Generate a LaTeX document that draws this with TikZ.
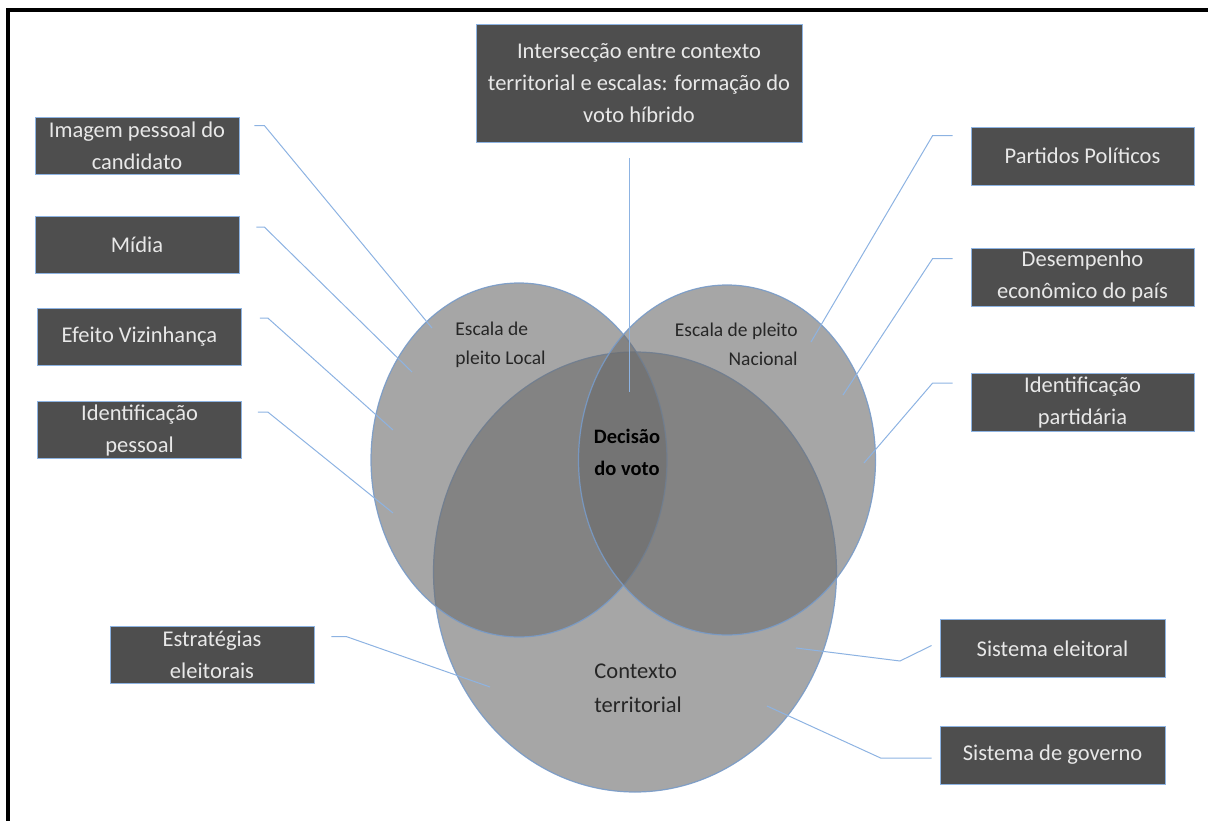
\documentclass[tikz,border=0pt]{standalone}
\usepackage{fontspec}
\setmainfont{Carlito}
\usetikzlibrary{shapes.geometric}
\definecolor{caixacinza}{RGB}{78,78,78}
\definecolor{textoclaro}{RGB}{232,232,232}
\definecolor{azulclaro}{RGB}{141,179,226}
\definecolor{contorno}{RGB}{120,155,200}
\definecolor{vennfill}{RGB}{107,107,107}
\definecolor{textoescuro}{RGB}{38,38,38}
\begin{document}
\begin{tikzpicture}[
        x=1pt, y=-1pt,
        thick
    ]
    \tikzset{
        caixa/.style = {rectangle, draw=azulclaro, line width=0.8pt, fill=caixacinza, text=textoclaro, align=center, inner sep=0pt, font=\fontsize{22.5}{32}\selectfont},
        caixae/.style = {caixa, minimum width=204pt, minimum height=57pt},
        caixad/.style = {caixa, minimum width=223pt, minimum height=58pt},
        venn/.style = {ellipse, draw=contorno, line width=1.2pt, fill=vennfill, fill opacity=0.6, draw opacity=0.9, inner sep=0pt},
        rotulo/.style = {text=textoescuro, inner sep=0pt, font=\fontsize{19.5}{29}\selectfont},
        liga/.style = {-, line width=1pt, azulclaro},
    }
    \useasboundingbox (0,0) rectangle (1208,821);
    \draw[line width=3.5pt] (8,823) -- (8,10) -- (1210,10);
    %
    \node[venn, minimum width=403pt, minimum height=440pt] (terr) at (635,572) {};
    \node[venn, minimum width=296pt, minimum height=354pt] (local) at (519,460) {};
    \node[venn, minimum width=297pt, minimum height=350pt] (nac) at (727,460) {};
    %
    \node[rotulo, anchor=west, align=left] (lblLocal) at (455,345) {Escala de\\pleito Local};
    \node[rotulo, anchor=east, align=right] (lblNac) at (798,344) {Escala de pleito\\Nacional};
    \node[rotulo, font=\fontsize{20.5}{32}\selectfont\bfseries, text=black, align=center] (dec) at (627,452) {Decisão\\do voto};
    \node[rotulo, font=\fontsize{22.5}{34}\selectfont, anchor=west, align=left] (lblTerr) at (594,688) {Contexto\\territorial};
    %
    \node[caixa, minimum width=326pt, minimum height=118pt] (inter) at (639,83) {Intersecção entre contexto\\territorial e escalas: formação do\\voto híbrido};
    \node[caixae] (img) at (137,145.5) {Imagem pessoal do\\candidato};
    \node[caixae] (mid) at (137,245) {Mídia};
    \node[caixae] (efe) at (139.5,337) {Efeito Vizinhança};
    \node[caixae] (idp) at (139.5,430) {Identificação\\pessoal};
    \node[caixae] (est) at (212,654.5) {Estratégias\\eleitorais};
    \node[caixad] (par) at (1082.5,156) {Partidos Políticos};
    \node[caixad] (des) at (1082.5,277) {Desempenho\\econômico do país};
    \node[caixad] (idpa) at (1082.5,402.5) {Identificação\\partidária};
    \node[caixad, minimum width=225pt] (sel) at (1052.5,648.5) {Sistema eleitoral};
    \node[caixad, minimum width=225pt] (sgo) at (1052.5,755) {Sistema de governo};
    %
    \coordinate (pImg) at (432,328);
    \coordinate (pMid) at (412,372);
    \coordinate (pEfe) at (393,430);
    \coordinate (pIdp) at (393,513);
    \coordinate (pEst) at (490,687);
    \coordinate (pInter) at (629,392);
    \coordinate (pPar) at (811,342);
    \coordinate (pDes) at (843,395);
    \coordinate (pIdpa) at (864,463);
    \coordinate (kSel) at (900,661);
    \coordinate (pSel) at (796,648);
    \coordinate (pSgo) at (767,706);
    %
    \draw[liga] ([xshift=15pt,yshift=-9pt]img.north east) -- ++(10,0) -- (pImg);
    \draw[liga] ([xshift=17pt,yshift=-11pt]mid.north east) -- ++(8,0) -- (pMid);
    \draw[liga] ([xshift=18pt,yshift=-10pt]efe.north east) -- ++(8,0) -- (pEfe);
    \draw[liga] ([xshift=16pt,yshift=-11pt]idp.north east) -- ++(10,0) -- (pIdp);
    \draw[liga] ([xshift=17pt,yshift=-11pt]est.north east) -- ++(15,0) -- (pEst);
    \draw[liga] ([xshift=-10pt,yshift=-16pt]inter.south) -- (pInter);
    %
    \draw[liga] ([xshift=-18pt,yshift=-9pt]par.north west) -- ++(-20,0) -- (pPar);
    \draw[liga] ([xshift=-18pt,yshift=-11pt]des.north west) -- ++(-20,0) -- (pDes);
    \draw[liga] ([xshift=-18pt,yshift=-10pt]idpa.north west) -- ++(-20,0) -- (pIdpa);
    \draw[liga] ([xshift=-8pt,yshift=3pt]sel.west) -- (kSel) -- (pSel);
    \draw[liga] ([xshift=-8pt,yshift=-3pt]sgo.west) -- ++(-51,0) -- (pSgo);
\end{tikzpicture}
\end{document}
